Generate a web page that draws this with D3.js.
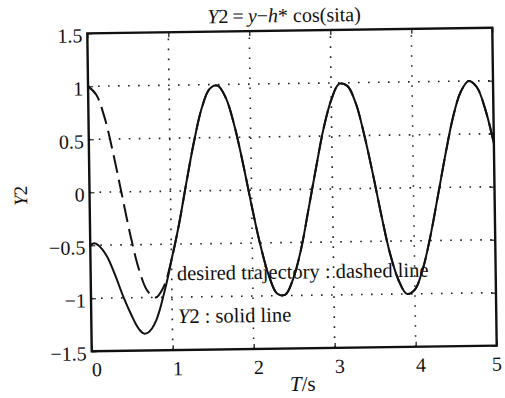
<!DOCTYPE html>
<html>
<head>
<meta charset="utf-8">
<script src="https://cdn.jsdelivr.net/npm/d3@7"></script>
<style>
  body { margin: 0; background: #fff; }
</style>
</head>
<body>
<div id="chart"></div>
<script>
// desired trajectory (dashed), sampled every 0.1 s
const desiredT = d3.range(0, 51).map(i => i / 10);
const desiredY = [1.00, 0.92, 0.70, 0.36, -0.03, -0.42, -0.74, -0.94, -1.00, -0.90,
  -0.65, -0.31, 0.09, 0.47, 0.78, 0.96, 0.99, 0.87, 0.61, 0.25,
  -0.15, -0.52, -0.81, -0.98, -0.99, -0.84, -0.57, -0.19, 0.20, 0.57,
  0.84, 0.99, 0.97, 0.81, 0.51, 0.14, -0.26, -0.62, -0.87, -1.00,
  -0.96, -0.77, -0.46, -0.08, 0.31, 0.66, 0.90, 1.00, 0.94, 0.73, 0.41];

// Y2 (solid)
const solidT = [0, 0.05, 0.1, 0.2, 0.3, 0.4, 0.5, 0.55, 0.6, 0.65, 0.7, 0.75, 0.8, 0.85, 0.9, 0.95,
  1.0, 1.1, 1.2, 1.3, 1.4, 1.5, 1.6, 1.7, 1.8, 1.9,
  2.0, 2.1, 2.2, 2.3, 2.4, 2.5, 2.6, 2.7, 2.8, 2.9,
  3.0, 3.1, 3.2, 3.3, 3.4, 3.5, 3.6, 3.7, 3.8, 3.9,
  4.0, 4.1, 4.2, 4.3, 4.4, 4.5, 4.6, 4.7, 4.8, 4.9, 5.0];
const solidY = [-0.50, -0.48, -0.50, -0.60, -0.78, -0.99, -1.17, -1.25, -1.31, -1.34, -1.33, -1.29, -1.22, -1.11, -0.97, -0.82,
  -0.65, -0.31, 0.09, 0.47, 0.78, 0.96, 0.99, 0.87, 0.61, 0.25,
  -0.15, -0.52, -0.81, -0.98, -0.99, -0.84, -0.57, -0.19, 0.20, 0.57,
  0.84, 0.99, 0.97, 0.81, 0.51, 0.14, -0.26, -0.62, -0.87, -1.00,
  -0.96, -0.77, -0.46, -0.08, 0.31, 0.66, 0.90, 1.00, 0.94, 0.73, 0.41];

const xTicks = [0, 1, 2, 3, 4, 5];
const yTicks = [-1.5, -1, -0.5, 0, 0.5, 1, 1.5];
const yTickLabels = ['\u22121.5', '\u22121', '\u22120.5', '0', '0.5', '1', '1.5'];

const width = 505;
const height = 398;
const frame = { left: 89.5, right: 494.5, top: 30.5, bottom: 348.5 };
const tilt = -0.8; // the scanned page is slightly rotated
const serif = '"Liberation Serif", "Times New Roman", Times, serif';

const svg = d3.select('#chart')
  .append('svg')
  .attr('width', width)
  .attr('height', height)
  .attr('font-family', serif);

const g = svg.append('g')
  .attr('transform', `rotate(${tilt}, ${(frame.left + frame.right) / 2}, ${(frame.top + frame.bottom) / 2})`);

const xScale = d3.scaleLinear().domain([0, 5]).range([frame.left, frame.right]);
const yScale = d3.scaleLinear().domain([-1.5, 1.5]).range([frame.bottom, frame.top]);

// dotted grid
const grid = g.append('g')
  .attr('stroke', '#222')
  .attr('stroke-width', 1.6)
  .attr('stroke-dasharray', '1.6,8.4')
  .attr('stroke-linecap', 'butt');

grid.selectAll('.gx').data(xTicks.slice(1, -1))
  .enter().append('line')
  .attr('x1', d => xScale(d)).attr('x2', d => xScale(d))
  .attr('y1', frame.bottom).attr('y2', frame.top);

grid.selectAll('.gy').data(yTicks.slice(1, -1))
  .enter().append('line')
  .attr('y1', d => yScale(d)).attr('y2', d => yScale(d))
  .attr('x1', frame.left).attr('x2', frame.right);

// axes with inner ticks
const xAxis = d3.axisBottom(xScale).tickValues(xTicks).tickSize(-5).tickFormat('');
const xAxisTop = d3.axisTop(xScale).tickValues(xTicks).tickSize(-5).tickFormat('');
const yAxis = d3.axisLeft(yScale).tickValues(yTicks).tickSize(-5).tickFormat('');
const yAxisRight = d3.axisRight(yScale).tickValues(yTicks).tickSize(-5).tickFormat('');

g.append('g').attr('transform', `translate(0, ${frame.bottom})`).call(xAxis);
g.append('g').attr('transform', `translate(0, ${frame.top})`).call(xAxisTop);
g.append('g').attr('transform', `translate(${frame.left}, 0)`).call(yAxis);
g.append('g').attr('transform', `translate(${frame.right}, 0)`).call(yAxisRight);
g.selectAll('.domain').remove();
g.selectAll('.tick line').attr('stroke', '#111').attr('stroke-width', 1.2);

// curves
const line = d3.line()
  .x(d => xScale(d[0]))
  .y(d => yScale(d[1]))
  .curve(d3.curveCatmullRom);

g.append('path')
  .datum(desiredT.map((t, i) => [t, desiredY[i]]))
  .attr('d', line)
  .attr('fill', 'none')
  .attr('stroke', '#111')
  .attr('stroke-width', 2)
  .attr('stroke-dasharray', '18,7');

g.append('path')
  .datum(solidT.map((t, i) => [t, solidY[i]]))
  .attr('d', line)
  .attr('fill', 'none')
  .attr('stroke', '#111')
  .attr('stroke-width', 2);

// frame
g.append('rect')
  .attr('x', frame.left).attr('y', frame.top)
  .attr('width', frame.right - frame.left)
  .attr('height', frame.bottom - frame.top)
  .attr('fill', 'none')
  .attr('stroke', '#111')
  .attr('stroke-width', 2.4);

const textStyle = sel => sel.attr('font-family', serif).attr('fill', '#111');

// tick labels
g.selectAll('.xlabel').data(xTicks)
  .enter().append('text')
  .call(textStyle)
  .attr('x', d => xScale(d) + (d < 5 ? 5 : 0))
  .attr('y', frame.bottom + 25)
  .attr('text-anchor', 'middle')
  .attr('font-size', 20)
  .text(d => d);

g.selectAll('.ylabel').data(yTicks)
  .enter().append('text')
  .call(textStyle)
  .attr('x', frame.left - 5)
  .attr('y', d => yScale(d) + 9)
  .attr('text-anchor', 'end')
  .attr('font-size', 20)
  .text((d, i) => yTickLabels[i]);

// title
const title = g.append('text')
  .call(textStyle)
  .attr('x', 286.5)
  .attr('y', 22)
  .attr('text-anchor', 'middle')
  .attr('font-size', 20);
title.append('tspan').attr('font-style', 'italic').text('Y');
title.append('tspan').text('2\u2009=\u2009');
title.append('tspan').attr('font-style', 'italic').text('y');
title.append('tspan').text('\u2212');
title.append('tspan').attr('font-style', 'italic').text('h');
title.append('tspan').text('* cos(sita)');

// axis labels
const xLabel = g.append('text')
  .call(textStyle)
  .attr('x', 300)
  .attr('y', 391)
  .attr('text-anchor', 'middle')
  .attr('font-size', 21);
xLabel.append('tspan').attr('font-style', 'italic').text('T');
xLabel.append('tspan').text('/s');

const yLabel = g.append('text')
  .call(textStyle)
  .attr('transform', `translate(27, 192) rotate(-90)`)
  .attr('text-anchor', 'middle')
  .attr('font-size', 19);
yLabel.append('tspan').attr('font-style', 'italic').text('Y');
yLabel.append('tspan').text('2');

// annotations
g.append('text')
  .call(textStyle)
  .attr('x', xScale(1.064))
  .attr('y', yScale(-0.84))
  .attr('font-size', 20.5)
  .text('desired trajectory : dashed line');

const note2 = g.append('text')
  .call(textStyle)
  .attr('x', xScale(1.07))
  .attr('y', yScale(-1.245))
  .attr('font-size', 20.5);
note2.append('tspan').attr('font-style', 'italic').text('Y');
note2.append('tspan').text('2 : solid line');
</script>
</body>
</html>
